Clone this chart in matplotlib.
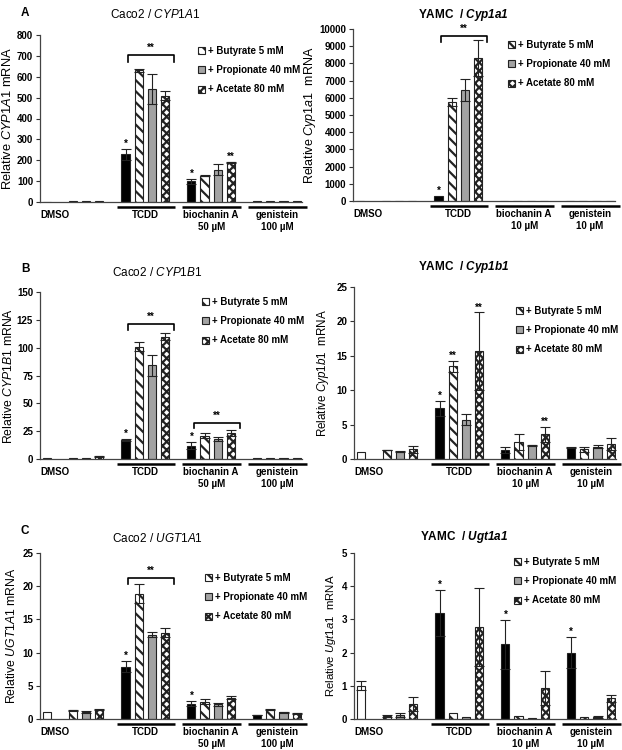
import matplotlib.pyplot as plt
from matplotlib.transforms import offset_copy
from matplotlib.patches import Patch
import numpy as np

plt.rcParams['font.family'] = ['Liberation Sans', 'DejaVu Sans']
plt.rcParams['mathtext.fontset'] = 'custom'
plt.rcParams['mathtext.rm'] = 'Liberation Sans'
plt.rcParams['mathtext.it'] = 'Liberation Sans:italic'
plt.rcParams['mathtext.bf'] = 'Liberation Sans:bold'
plt.rcParams['mathtext.bfit'] = 'Liberation Sans:italic:bold'
plt.rcParams['hatch.linewidth'] = 1.6

# 数据
groups_caco2 = ['DMSO', 'TCDD', 'biochanin A\n50 µM', 'genistein\n100 µM']
groups_yamc = ['DMSO', 'TCDD', 'biochanin A\n10 µM', 'genistein\n10 µM']
scfa_labels = ['+ Butyrate 5 mM', '+ Propionate 40 mM', '+ Acetate 80 mM']

# each row: [alone, + butyrate, + propionate, + acetate]
caco2_cyp1a1 = [[1, 3, 3, 3], [228, 630, 540, 510], [100, 125, 155, 190], [3, 3, 3, 3]]
caco2_cyp1a1_err = [[0, 0, 0, 0], [28, 5, 72, 20], [12, 2, 27, 4], [0, 0, 0, 0]]
yamc_cyp1a1 = [[25, 25, 25, 25], [280, 5750, 6450, 8300], [25, 25, 25, 25], [25, 25, 25, 25]]
yamc_cyp1a1_err = [[0, 0, 0, 0], [0, 250, 650, 1050], [0, 0, 0, 0], [0, 0, 0, 0]]

caco2_cyp1b1 = [[1, 1, 1, 2.5], [17, 101, 84, 110], [12, 21, 18, 23.5], [0.5, 0.8, 0.6, 0.8]]
caco2_cyp1b1_err = [[0, 0, 0, 0.5], [1, 4, 9, 3], [3, 2.5, 1.5, 2.5], [0, 0, 0, 0]]
yamc_cyp1b1 = [[1.0, 1.3, 1.05, 1.4], [7.4, 13.5, 5.7, 15.7], [1.3, 2.5, 2.0, 3.6], [1.65, 1.4, 1.8, 2.2]]
yamc_cyp1b1_err = [[0, 0.05, 0.05, 0.5], [1.1, 0.8, 0.8, 5.6], [0.5, 1.2, 0.05, 1.1], [0.1, 0.4, 0.2, 0.9]]

caco2_ugt1a1 = [[1.0, 1.3, 1.05, 1.4], [7.9, 18.9, 12.7, 13.0], [2.3, 2.6, 2.2, 3.2], [0.6, 1.4, 1.0, 0.85]]
caco2_ugt1a1_err = [[0, 0.05, 0.2, 0.05], [0.8, 1.4, 0.4, 0.7], [0.4, 0.35, 0.2, 0.2], [0.05, 0.05, 0.05, 0.05]]
yamc_ugt1a1 = [[1.0, 0.1, 0.12, 0.45], [3.2, 0.18, 0.07, 2.78], [2.25, 0.09, 0.04, 0.93], [2.0, 0.05, 0.07, 0.62]]
yamc_ugt1a1_err = [[0.13, 0.03, 0.05, 0.22], [0.7, 0, 0, 1.17], [0.73, 0, 0, 0.52], [0.47, 0, 0.03, 0.1]]

# (group, bar, text)
stars_a1 = [(1, 0, '*'), (2, 0, '*'), (2, 3, '**')]
stars_a2 = [(1, 0, '*')]
stars_b1 = [(1, 0, '*'), (2, 0, '*')]
stars_b2 = [(1, 0, '*'), (1, 1, '**'), (1, 3, '**'), (2, 3, '**')]
stars_c1 = [(1, 0, '*'), (2, 0, '*')]
stars_c2 = [(1, 0, '*'), (2, 0, '*'), (3, 0, '*')]

# (group, low, high)
brackets_a1 = [(1, 672, 704)]
brackets_a2 = [(1, 9260, 9610)]
brackets_b1 = [(1, 115.7, 121.7), (2, 27.5, 32.6)]
brackets_b2 = []
brackets_c1 = [(1, 20.3, 21.2)]
brackets_c2 = []

# 面板
W, H = 622, 750
panels = [
    dict(rect=(40, 35, 302, 202), vals=caco2_cyp1a1, err=caco2_cyp1a1_err, groups=groups_caco2,
         ymax=800, step=100, gene='CYP1A1', cell='Caco2', stars=stars_a1, brackets=brackets_a1,
         title_xy=(155, 15), leg_xy=(198, 46), ylab_x=-0.098, ylab_fs=9.3, letter='A', letter_y=13),
    dict(rect=(353, 29, 615, 201), vals=yamc_cyp1a1, err=yamc_cyp1a1_err, groups=groups_yamc,
         ymax=10000, step=1000, gene='Cyp1a1', cell='YAMC', stars=stars_a2, brackets=brackets_a2,
         title_xy=(463, 15), leg_xy=(508, 40), ylab_x=-0.132, ylab_fs=9.0),
    dict(rect=(40, 292, 302, 459), vals=caco2_cyp1b1, err=caco2_cyp1b1_err, groups=groups_caco2,
         ymax=150, step=25, gene='CYP1B1', cell='Caco2', stars=stars_b1, brackets=brackets_b1,
         title_xy=(157, 272), leg_xy=(202, 297), ylab_x=-0.095, ylab_fs=8.8, letter='B', letter_y=269),
    dict(rect=(354, 287, 616, 459), vals=yamc_cyp1b1, err=yamc_cyp1b1_err, groups=groups_yamc,
         ymax=25, step=5, gene='Cyp1b1', cell='YAMC', stars=stars_b2, brackets=brackets_b2,
         title_xy=(464, 267), leg_xy=(516, 306), ylab_x=-0.088, ylab_fs=8.4),
    dict(rect=(40, 553, 302, 719), vals=caco2_ugt1a1, err=caco2_ugt1a1_err, groups=groups_caco2,
         ymax=25, step=5, gene='UGT1A1', cell='Caco2', stars=stars_c1, brackets=brackets_c1,
         title_xy=(157, 539), leg_xy=(205, 573), ylab_x=-0.083, ylab_fs=8.8, letter='C', letter_y=531),
    dict(rect=(354, 553, 616, 719), vals=yamc_ugt1a1, err=yamc_ugt1a1_err, groups=groups_yamc,
         ymax=5, step=1, gene='Ugt1a1', cell='YAMC', stars=stars_c2, brackets=brackets_c2,
         title_xy=(464, 537), leg_xy=(514, 557), ylab_x=-0.062, ylab_fs=8.2),
]

group_start = [0, 6, 11, 16]
slot_offsets = [[0, 2, 3, 4], [0, 1, 2, 3], [0, 1, 2, 3], [0, 1, 2, 3]]
styles = [
    dict(color='black', hatch=None),
    dict(color='white', hatch='\\\\\\'),
    dict(color='#a3a3a3', hatch=None),
    dict(color='white', hatch='xxxx'),
]
dmso_style = dict(color='white', hatch=None)
bar_w = 0.62
edge = '#222222'

fig = plt.figure(figsize=(W / 100, H / 100), dpi=100)

for p in panels:
    l, t, r, b = p['rect']
    ax = fig.add_axes([l / W, 1 - b / H, (r - l) / W, (b - t) / H])
    vals = np.array(p['vals'], dtype=float)
    err = np.array(p['err'], dtype=float)

    xpos = np.zeros_like(vals)
    for g in range(4):
        for k in range(4):
            x = group_start[g] + slot_offsets[g][k]
            xpos[g, k] = x
            st = dmso_style if (g == 0 and k == 0) else styles[k]
            ax.bar(x, vals[g, k], width=bar_w, color=st['color'], hatch=st['hatch'],
                   edgecolor=edge, linewidth=0.8, zorder=2)
            if err[g, k] > 0:
                ax.errorbar(x, vals[g, k], yerr=err[g, k], fmt='none', ecolor='#222222',
                            elinewidth=0.8, capsize=3.5, capthick=0.8, zorder=3)

    for g, k, s in p['stars']:
        ax.annotate(s, (xpos[g, k], vals[g, k] + err[g, k]), xytext=(0, 0),
                    textcoords='offset points', ha='center', va='bottom',
                    fontsize=7, fontweight='bold', annotation_clip=False)

    for g, lo, hi in p['brackets']:
        x0 = group_start[g] + 0.18
        x1 = group_start[g] + 3.7
        ax.plot([x0, x0, x1, x1], [lo, hi, hi, lo], color='black', lw=1.2,
                clip_on=False, zorder=4)
        ax.annotate('**', ((x0 + x1) / 2, hi), xytext=(0, 1.5), textcoords='offset points',
                    ha='center', va='bottom', fontsize=7, fontweight='bold',
                    annotation_clip=False)

    ax.set_xlim(-0.5, 19.4)
    ax.set_ylim(0, p['ymax'])
    ax.set_yticks(np.arange(0, p['ymax'] + p['step'] / 2, p['step']))
    ax.set_xticks([])
    ax.tick_params(axis='y', direction='out', length=3, width=0.8, labelsize=7,
                   pad=2, color='#333333')
    plt.setp(ax.get_yticklabels(), fontweight='bold')
    for side in ['top', 'right']:
        ax.spines[side].set_visible(False)
    for side in ['left', 'bottom']:
        ax.spines[side].set_color('#444444')
        ax.spines[side].set_linewidth(0.9)

    ylab = 'Relative $\\it{%s}$ mRNA' % p['gene'] if p['cell'] == 'Caco2' \
        else 'Relative $\\it{%s}$  mRNA' % p['gene']
    ax.set_ylabel(ylab, fontsize=p['ylab_fs'])
    ax.yaxis.set_label_coords(p['ylab_x'], 0.5)

    # 组标签和下划线
    under_tr = offset_copy(ax.get_xaxis_transform(), fig=fig, y=-4.5, units='dots')
    for g, name in enumerate(p['groups']):
        s = group_start[g]
        if g == 0:
            cx = 0.6
        else:
            cx = s + 1.5
            ax.plot([s - 0.68, s + 3.75], [0, 0], color='black', lw=1.8,
                    transform=under_tr, clip_on=False, solid_capstyle='butt')
        ax.annotate(name, (cx, 0), xycoords=('data', 'axes fraction'), xytext=(0, -6),
                    textcoords='offset points', ha='center', va='top', fontsize=7,
                    fontweight='bold', linespacing=1.15, annotation_clip=False)

    # 图例
    handles = [Patch(facecolor=styles[k]['color'], hatch=styles[k]['hatch'],
                     edgecolor=edge, linewidth=0.8) for k in range(1, 4)]
    lx, ly = p['leg_xy']
    leg = ax.legend(handles, scfa_labels, loc='upper left', bbox_to_anchor=(lx / W, 1 - ly / H),
                    bbox_transform=fig.transFigure, frameon=False, borderpad=0,
                    borderaxespad=0, handlelength=0.75, handleheight=0.75,
                    handletextpad=0.25, labelspacing=0.95,
                    prop={'size': 7, 'weight': 'bold'})

    tx, ty = p['title_xy']
    if p['cell'] == 'YAMC':
        title = 'YAMC  / $\\mathbfit{%s}$' % p['gene']
        fig.text(tx / W, 1 - ty / H, title, ha='center', va='center', fontsize=8.5,
                 fontweight='bold')
    else:
        title = 'Caco2 / $\\it{%s}$' % p['gene']
        fig.text(tx / W, 1 - ty / H, title, ha='center', va='center', fontsize=8.5)

    if 'letter' in p:
        fig.text(25 / W, 1 - p['letter_y'] / H, p['letter'], ha='center', va='center',
                 fontsize=8.5, fontweight='bold')

fig.savefig('out.png', dpi=100)
